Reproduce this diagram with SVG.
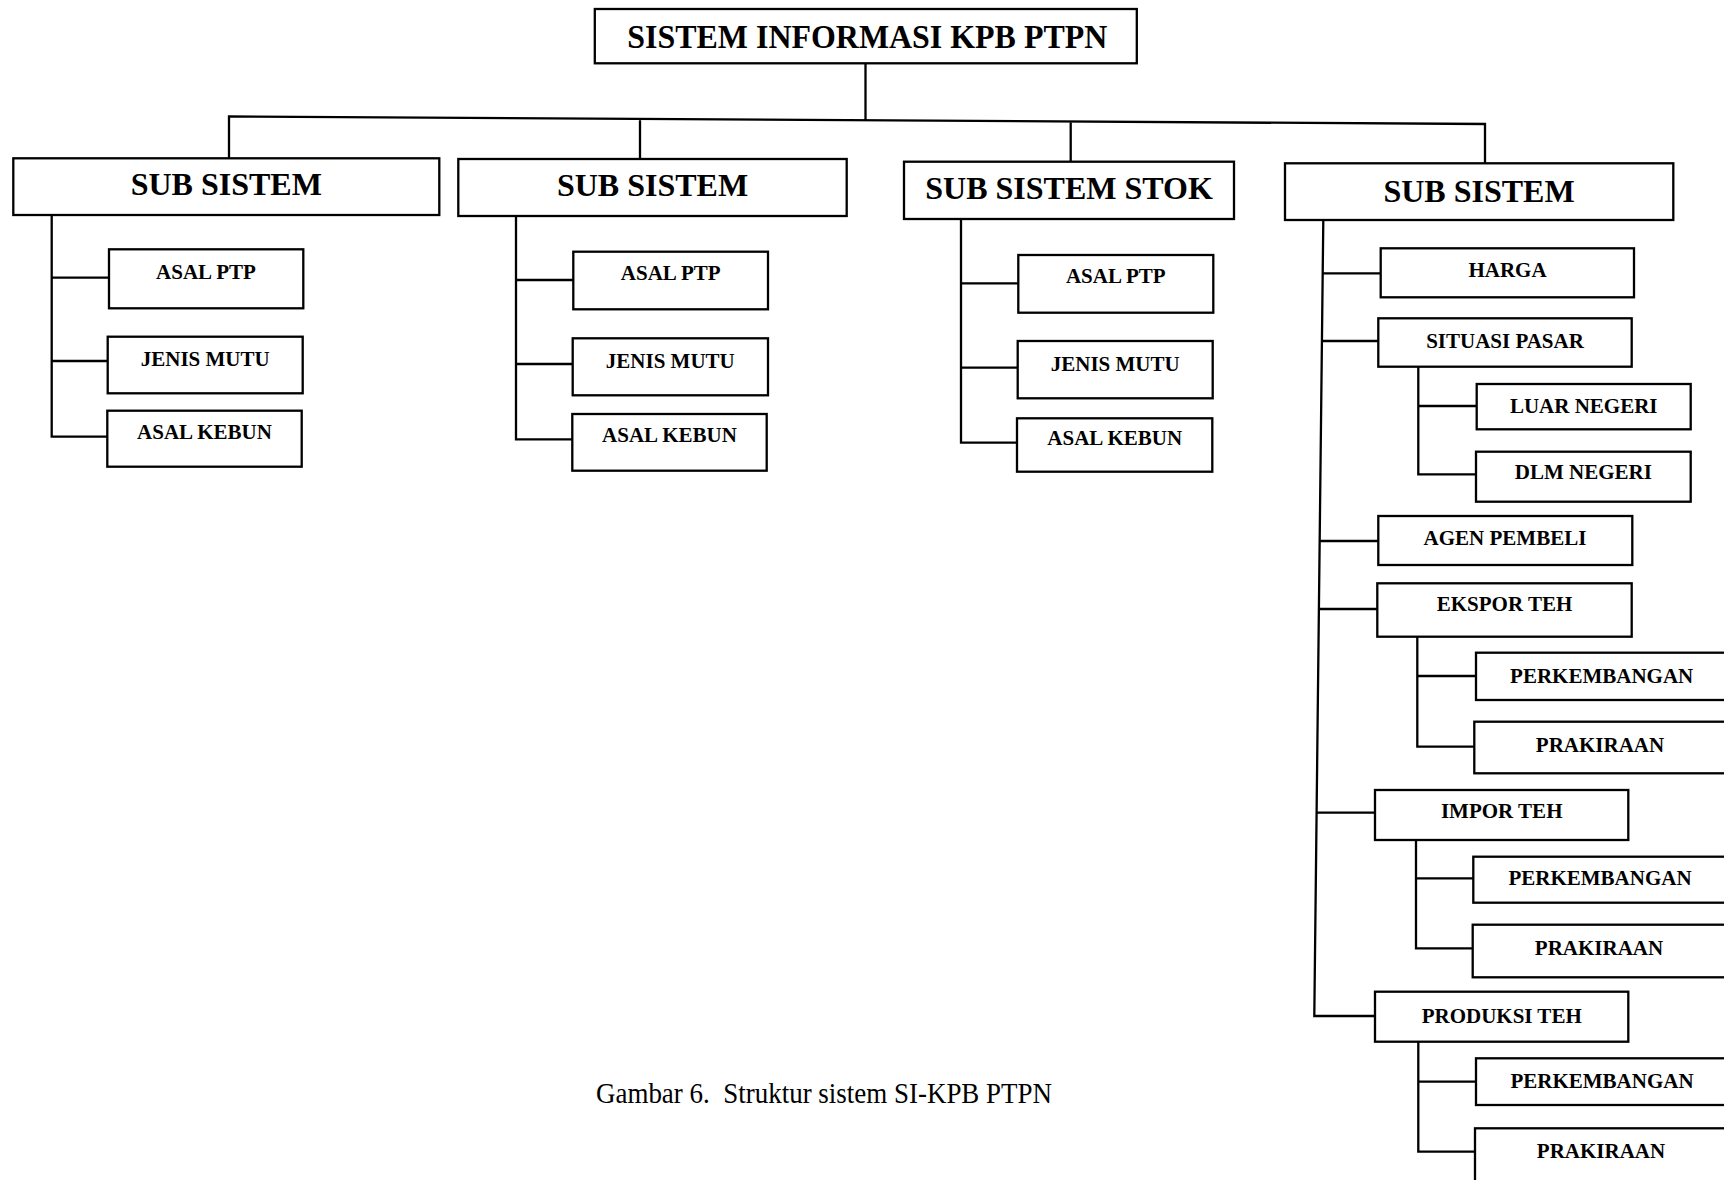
<svg xmlns="http://www.w3.org/2000/svg" width="1724" height="1180" viewBox="0 0 1724 1180">
<style>
rect{fill:#fff;stroke:#000;stroke-width:2.3}
.c path,.c line{fill:none;stroke:#000;stroke-width:2.3}
text{font-family:"Liberation Serif","Times New Roman",serif;font-weight:bold;fill:#000;text-anchor:middle}
.t{font-size:33px}
.s{font-size:32px}
.n{font-size:21px}
.cap{font-size:29px;font-weight:normal;text-anchor:start}
</style>
<rect x="0" y="0" width="1724" height="1180" style="fill:#fff;stroke:none"/>
<g class="c" id="connectors">
<path d="M865.5 63.3V120.5M229 158.3V116.5L1485 124V163.3M640 118.8V159M1070.7 121.4V161.7"/>
<path d="M51.7 215V436.7H107.3M51.7 277.7H109M51.7 361H107.7"/>
<path d="M516 216V439.3H572.3M516 280H573.3M516 364H572.7"/>
<path d="M961 219V442.7H1017M961 283.3H1018.3M961 367.7H1017.7"/>
<path d="M1323.3 220L1314.3 1016H1375M1322.7 273.3H1380.7M1321.9 341H1378.3M1319.7 541H1378.3M1318.9 609H1377.3M1316.6 812.7H1375"/>
<path d="M1418.3 366.7V474.3H1476M1418.3 406H1476.7"/>
<path d="M1417.3 636.7V746.7H1474.3M1417.3 676H1476"/>
<path d="M1416 840V948.3H1472.7M1416 878.3H1473.3"/>
<path d="M1418.3 1041.7V1151.7H1475M1418.3 1081.7H1476"/>
</g>
<g id="root"><rect x="594.8" y="9" width="542" height="54.3"/><text class="t" x="867.3" y="48" textLength="480" lengthAdjust="spacingAndGlyphs">SISTEM INFORMASI KPB PTPN</text></g>
<g id="sub1"><rect x="13.3" y="158.3" width="426" height="56.7"/><text class="s" x="226.3" y="195">SUB SISTEM</text></g>
<g id="sub1-asalptp"><rect x="109" y="249.3" width="194.3" height="59"/><text class="n" x="206" y="279">ASAL PTP</text></g>
<g id="sub1-jenismutu"><rect x="107.7" y="336.7" width="195" height="56.6"/><text class="n" x="205.2" y="366">JENIS MUTU</text></g>
<g id="sub1-asalkebun"><rect x="107.3" y="410.7" width="194.4" height="56"/><text class="n" x="204.5" y="439">ASAL KEBUN</text></g>
<g id="sub2"><rect x="458.3" y="159" width="388.4" height="57"/><text class="s" x="652.5" y="196">SUB SISTEM</text></g>
<g id="sub2-asalptp"><rect x="573.3" y="251.7" width="194.7" height="57.6"/><text class="n" x="670.7" y="280">ASAL PTP</text></g>
<g id="sub2-jenismutu"><rect x="572.7" y="338.3" width="195.3" height="57"/><text class="n" x="670.3" y="367.7">JENIS MUTU</text></g>
<g id="sub2-asalkebun"><rect x="572.3" y="414" width="194.4" height="56.7"/><text class="n" x="669.5" y="442">ASAL KEBUN</text></g>
<g id="sub3"><rect x="904" y="161.7" width="330" height="57.3"/><text class="s" x="1069" y="199.3">SUB SISTEM STOK</text></g>
<g id="sub3-asalptp"><rect x="1018.3" y="255" width="195" height="57.7"/><text class="n" x="1115.8" y="282.7">ASAL PTP</text></g>
<g id="sub3-jenismutu"><rect x="1017.7" y="341" width="195" height="57.3"/><text class="n" x="1115.2" y="371">JENIS MUTU</text></g>
<g id="sub3-asalkebun"><rect x="1017" y="418.3" width="195.3" height="53.4"/><text class="n" x="1114.7" y="445">ASAL KEBUN</text></g>
<g id="sub4"><rect x="1285" y="163.3" width="388.3" height="56.7"/><text class="s" x="1479" y="201.7">SUB SISTEM</text></g>
<g id="harga"><rect x="1380.7" y="248.3" width="253.3" height="49"/><text class="n" x="1507.5" y="276.7">HARGA</text></g>
<g id="situasi"><rect x="1378.3" y="318.3" width="253.4" height="48.4"/><text class="n" x="1505" y="348.3">SITUASI PASAR</text></g>
<g id="luar"><rect x="1476.7" y="384" width="214" height="45.3"/><text class="n" x="1583.7" y="412.7">LUAR NEGERI</text></g>
<g id="dlm"><rect x="1476" y="451.7" width="214.7" height="50"/><text class="n" x="1583.4" y="479.3">DLM NEGERI</text></g>
<g id="agen"><rect x="1378.3" y="516" width="254" height="49"/><text class="n" x="1505" y="545">AGEN PEMBELI</text></g>
<g id="ekspor"><rect x="1377.3" y="583.3" width="254.4" height="53.4"/><text class="n" x="1504.5" y="610.7">EKSPOR TEH</text></g>
<g id="ekspor-perk"><rect x="1476" y="652.7" width="270" height="47.3"/><text class="n" x="1601.7" y="682.7">PERKEMBANGAN</text></g>
<g id="ekspor-prak"><rect x="1474.3" y="721.7" width="272" height="51.6"/><text class="n" x="1600" y="751.7">PRAKIRAAN</text></g>
<g id="impor"><rect x="1375" y="790" width="253.3" height="50"/><text class="n" x="1501.7" y="818.3">IMPOR TEH</text></g>
<g id="impor-perk"><rect x="1473.3" y="856.7" width="272" height="46"/><text class="n" x="1600" y="885">PERKEMBANGAN</text></g>
<g id="impor-prak"><rect x="1472.7" y="924.7" width="272" height="52.6"/><text class="n" x="1599" y="955">PRAKIRAAN</text></g>
<g id="produksi"><rect x="1375" y="991.7" width="253.3" height="50"/><text class="n" x="1501.7" y="1022.7">PRODUKSI TEH</text></g>
<g id="produksi-perk"><rect x="1476" y="1058.3" width="270" height="46.7"/><text class="n" x="1602" y="1088.3">PERKEMBANGAN</text></g>
<g id="produksi-prak"><rect x="1475" y="1128.3" width="270" height="80"/><text class="n" x="1601" y="1158.3">PRAKIRAAN</text></g>
<text class="cap" x="596" y="1103" textLength="456" lengthAdjust="spacingAndGlyphs" xml:space="preserve">Gambar 6.  Struktur sistem SI-KPB PTPN</text>
</svg>
